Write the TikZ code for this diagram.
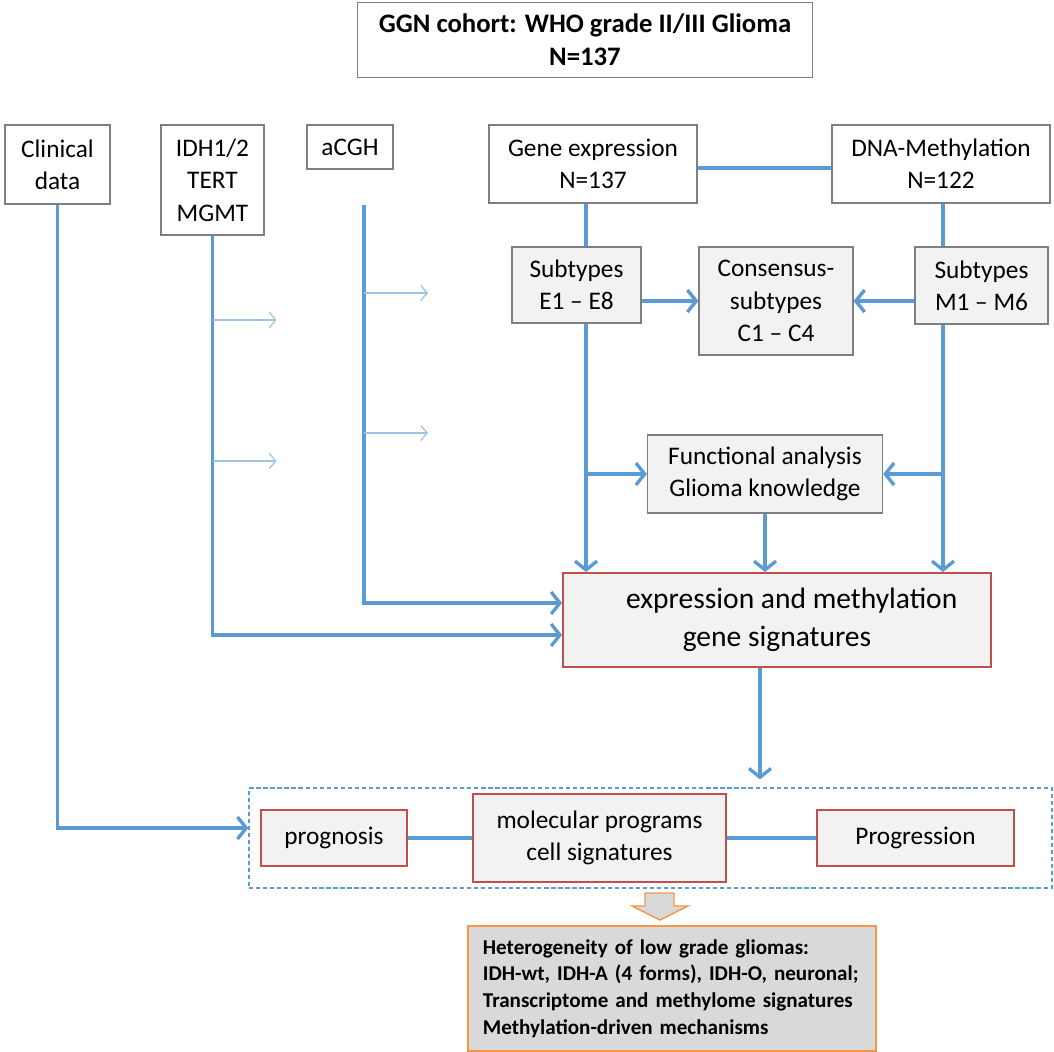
\documentclass[tikz,border=0pt]{standalone}
\usepackage{fontspec}
\setmainfont{Carlito}
\usetikzlibrary{arrows.meta, calc}
\definecolor{cline}{HTML}{5B9BD5}
\definecolor{cthin}{HTML}{9DC3E6}
\definecolor{cframe}{HTML}{7F7F7F}
\definecolor{cfill}{HTML}{F2F2F2}
\definecolor{cred}{HTML}{C0504D}
\definecolor{corange}{HTML}{F79646}
\definecolor{cdark}{HTML}{D9D9D9}
\tikzset{
  every picture/.style={x=0.025cm, y=-0.025cm},
  wh/.style 2 args={minimum width=#1*0.025cm, minimum height=#2*0.025cm},
  box/.style={draw=cframe, fill=#1, line width=0.9pt, align=center, inner sep=0pt, font=\fontsize{18}{23}\selectfont},
  box/.default=white,
  redbox/.style={box=cfill, draw=cred, line width=1.3pt},
  dashbox/.style={draw=cline, line width=0.8pt, dash pattern=on 3pt off 2pt},
  link/.style={draw=cline, line width=2.8pt},
  arrow/.style={link, -{Straight Barb[length=2.2mm, width=5.5mm, line width=2.4pt]}},
  thinarrow/.style={draw=cthin, line width=0.9pt, -{Straight Barb[length=1.6mm, width=3.8mm, line width=0.9pt]}},
}
\begin{document}
\begin{tikzpicture}
  \useasboundingbox (0,0) rectangle (1054,1052);
  % cohort
  \node[box, wh={455}{75}, font=\bfseries\fontsize{19}{23.5}\selectfont] (title) at (585,40) {GGN cohort: WHO grade II/III Glioma\\N=137};
  % data sources
  \node[box, wh={105}{79}] (clin) at (57.5,164.5) {Clinical\\data};
  \node[box, wh={103}{110}] (idh) at (212.5,180) {IDH1/2\\TERT\\MGMT};
  \node[box, wh={86}{44}] (acgh) at (350,147) {aCGH};
  \node[box, wh={208}{78}] (gexp) at (593,164) {Gene expression\\N=137};
  \node[box, wh={218}{78}] (meth) at (941,164) {DNA-Methylation\\N=122};
  % subtypes and analysis
  \node[box=cfill, wh={129}{76}] (subE) at (576.5,285) {Subtypes\\E1 -- E8};
  \node[box=cfill, wh={154}{108}] (cons) at (776,301) {Consensus-\\subtypes\\C1 -- C4};
  \node[box=cfill, wh={133}{77}] (subM) at (981.5,285.5) {Subtypes\\M1 -- M6};
  \node[box=cfill, wh={235}{78}] (func) at (765,474) {Functional analysis\\Glioma knowledge};
  \node[redbox, wh={428}{94}, font=\fontsize{21}{27}\selectfont] (sig) at (777,620) {\hspace*{1em}expression and methylation\\gene signatures};
  % outcome
  \node[dashbox, wh={803}{100}] (dash) at (650.5,838) {};
  \node[redbox, wh={146}{56}] (prog) at (334,838) {prognosis};
  \node[redbox, wh={253}{88}] (mol) at (599.5,838) {molecular programs\\cell signatures};
  \node[redbox, wh={197}{56}] (progr) at (915.5,838) {Progression};
  \node[box=cdark, draw=corange, line width=1.3pt, anchor=north west, align=left, inner xsep=0.375cm, text width=9.45cm, minimum height=3.125cm, font=\bfseries\fontsize{15}{19}\selectfont] (res) at (467,925) {Heterogeneity of low grade gliomas:\\IDH-wt, IDH-A (4 forms), IDH-O, neuronal;\\Transcriptome and methylome signatures\\Methylation-driven mechanisms};
  \draw[corange, fill=cdark, line width=1pt] (645,893) -- (674,893) -- (674,906) -- (688,906) -- (660,920) -- (632,906) -- (645,906) -- cycle;
  % connectors
  \coordinate (ex) at (586,0);
  \coordinate (mx) at (943,0);
  \coordinate (sx) at (760,0);
  \coordinate (acghtop) at (364,205);
  \draw[link] ($(gexp.east)+(0,4)$) -- ($(meth.west)+(0,4)$);
  \draw[link] (gexp.south -| ex) -- (subE.north -| ex);
  \draw[link] (meth.south -| mx) -- (subM.north -| mx);
  \draw[arrow] (subE.east |- cons.west) -- (cons.west);
  \draw[arrow] (subM.west |- cons.east) -- (cons.east);
  \draw[arrow] (subE.south -| ex) -- (sig.north -| ex);
  \draw[arrow] (subM.south -| mx) -- (sig.north -| mx);
  \draw[arrow] (ex |- func.west) -- (func.west);
  \draw[arrow] (mx |- func.east) -- (func.east);
  \draw[arrow] (func.south) -- (func.south |- sig.north);
  \draw[arrow] (acghtop) |- ($(sig.west)+(0,-17)$);
  \draw[arrow] (idh.south) |- ($(sig.west)+(0,15)$);
  \draw[arrow] (clin.south) |- ($(dash.west)+(0,-10)$);
  \draw[arrow, shorten >=0.2cm] (sig.south -| sx) -- (dash.north -| sx);
  \draw[link] (prog.east) -- (mol.west);
  \draw[link] (mol.east) -- (progr.west);
  \foreach \yy in {320,461} \draw[thinarrow] (idh.south |- 0,\yy) -- ++(64,0);
  \foreach \yy in {293,433} \draw[thinarrow] (acghtop |- 0,\yy) -- ++(64,0);
\end{tikzpicture}
\end{document}
